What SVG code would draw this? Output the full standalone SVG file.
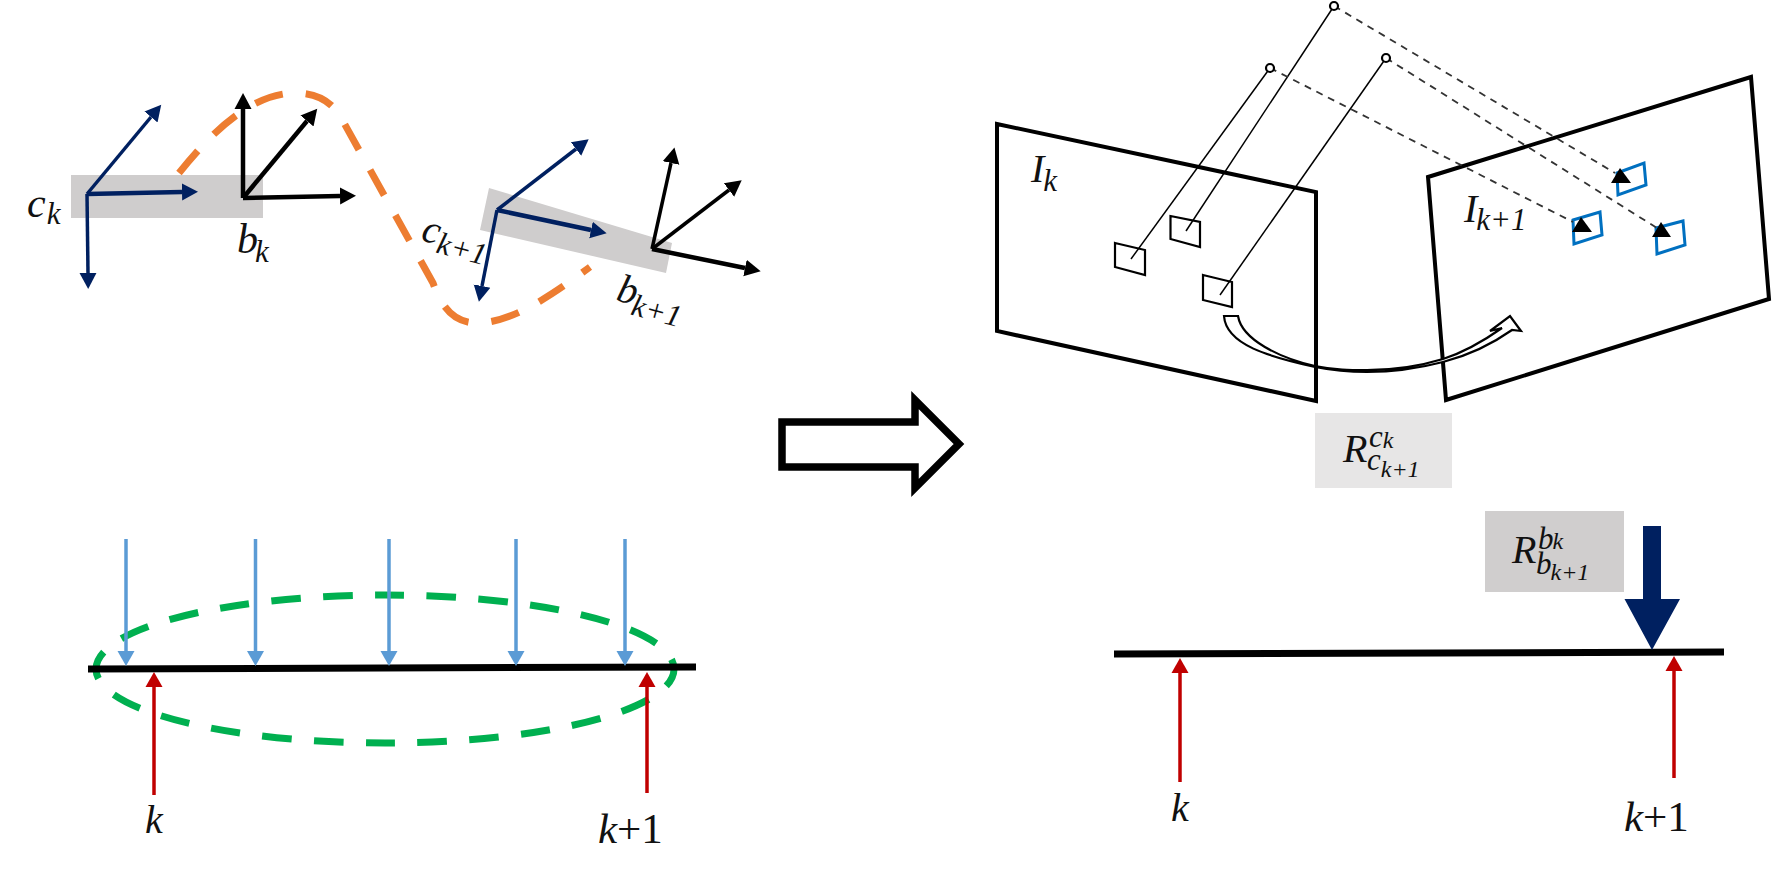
<svg xmlns="http://www.w3.org/2000/svg" width="1772" height="881" viewBox="0 0 1772 881" font-family="'Liberation Serif','DejaVu Serif',serif">
<style>
text{font-family:"Liberation Serif","DejaVu Serif",serif;font-style:italic;fill:#111}
.m{font-size:40px}
.s{font-size:31px}
.ss{font-size:24px}
.r{font-style:normal}
.navy{stroke:#002060;stroke-width:3.5;fill:none;marker-end:url(#hNavy)}
.navyb{stroke:#002060;stroke-width:4.5;fill:none;marker-end:url(#hNavy)}
.blk{stroke:#000;stroke-width:3.5;fill:none;marker-end:url(#hBlack)}
.blkb{stroke:#000;stroke-width:4.5;fill:none;marker-end:url(#hBlack)}
.sky{stroke:#5B9BD5;stroke-width:3.5;fill:none;marker-end:url(#hSky)}
.red{stroke:#C00000;stroke-width:3.5;fill:none;marker-end:url(#hRed)}
.plane{fill:none;stroke:#000;stroke-width:4;stroke-linejoin:miter}
.patch{fill:none;stroke:#000;stroke-width:2.2}
.bpatch{fill:none;stroke:#0070C0;stroke-width:3}
.ray{stroke:#000;stroke-width:1.5;fill:none}
.dray{stroke:#333;stroke-width:1.8;stroke-dasharray:7 6;fill:none}
.pt{fill:#fff;stroke:#000;stroke-width:2.2}
.tri{fill:#000}
.axis{stroke:#000;stroke-width:7;fill:none}
</style>
<defs>
<marker id="hNavy" markerUnits="userSpaceOnUse" markerWidth="20" markerHeight="20" refX="0" refY="10" orient="auto" viewBox="0 0 20 20"><path d="M0,1.5 L16,10 L0,18.5 Z" fill="#002060"/></marker>
<marker id="hBlack" markerUnits="userSpaceOnUse" markerWidth="20" markerHeight="20" refX="0" refY="10" orient="auto" viewBox="0 0 20 20"><path d="M0,1.5 L16,10 L0,18.5 Z" fill="#000"/></marker>
<marker id="hSky" markerUnits="userSpaceOnUse" markerWidth="18" markerHeight="18" refX="0" refY="9" orient="auto" viewBox="0 0 18 18"><path d="M0,0.5 L15,9 L0,17.5 Z" fill="#5B9BD5"/></marker>
<marker id="hRed" markerUnits="userSpaceOnUse" markerWidth="18" markerHeight="18" refX="0" refY="9" orient="auto" viewBox="0 0 18 18"><path d="M0,0.5 L15,9 L0,17.5 Z" fill="#C00000"/></marker>
</defs>
<rect width="1772" height="881" fill="#fff"/>

<g id="trajectory">
<rect x="71" y="175" width="192" height="43" fill="#CFCDCD"/>
<polygon points="489,188 672,243 666,273 480,230" fill="#CFCDCD"/>
<path d="M179,173 C212,132 252,92 298,93 C322,94 335,105 344,123 L433,283 C441,305 452,323 477,323 C512,323 552,295 590,267" fill="none" stroke="#ED7D31" stroke-width="7" stroke-dasharray="29 23"/>
</g>

<g id="frame-ck">
<path class="navy" d="M87,194 L151,117"/>
<path class="navyb" d="M87,194 L182,192"/>
<path class="navy" d="M87,194 L88,273"/>
<text class="m" x="27" y="217" style="font-size:42px">c<tspan class="s" dx="1" dy="7">k</tspan></text>
</g>
<g id="frame-bk">
<path class="blkb" d="M243,198 L243,109"/>
<path class="blkb" d="M243,198 L307,121"/>
<path class="blkb" d="M243,198 L340,196"/>
<text class="m" x="237" y="253" style="font-size:42px">b<tspan class="s" dx="-3" dy="9">k</tspan></text>
</g>
<g id="frame-ck1">
<path class="navy" d="M497,210 L576,149"/>
<path class="navyb" d="M497,210 L591,230"/>
<path class="navy" d="M497,210 L482,286"/>
<text class="m" transform="translate(420,240) rotate(15)" x="0" y="0">c<tspan class="s" dx="0" dy="8">k+1</tspan></text>
</g>
<g id="frame-bk1">
<path class="blk" d="M652,249 L671,163"/>
<path class="blk" d="M652,249 L729,190"/>
<path class="blkb" d="M652,249 L745,268"/>
<text class="m" transform="translate(615,300) rotate(15)" x="0" y="0">b<tspan class="s" dx="-2" dy="10">k+1</tspan></text>
</g>

<g id="imu-preintegration">
<ellipse cx="385" cy="669" rx="289" ry="74" pathLength="1224" fill="none" stroke="#00B050" stroke-width="7" stroke-dasharray="29 22" stroke-dashoffset="10"/>
<path class="axis" d="M88,669 L696,667"/>
<path class="sky" d="M126,539 V651"/>
<path class="sky" d="M255.5,539 V651"/>
<path class="sky" d="M389,539 V651"/>
<path class="sky" d="M516,539 V651"/>
<path class="sky" d="M625,539 V651"/>
<path class="red" d="M154,795 V687"/>
<path class="red" d="M647,793 V687"/>
<text class="m" x="145" y="833">k</text>
<text class="m" x="598" y="843" style="font-size:43px">k<tspan class="r">+1</tspan></text>
</g>

<g id="big-arrow">
<polygon points="782,422 915,422 915,400 959,444 915,488 915,467 782,467" fill="#fff" stroke="#000" stroke-width="7.5"/>
</g>

<g id="plane-k">
<polygon class="plane" points="997,124 1316,192 1316,401 997,331"/>
<polygon class="patch" points="1115,243 1145,250 1145,275 1115,267"/>
<polygon class="patch" points="1170.5,216 1200,222 1200,247 1170.5,239"/>
<polygon class="patch" points="1203,275 1232,282 1232,307 1203,300"/>
<text class="m" x="1031" y="182">I<tspan class="s" dx="-1" dy="9">k</tspan></text>
</g>
<g id="plane-k1">
<polygon class="plane" points="1428,177 1751,77 1769,299 1446,400"/>
<polygon class="bpatch" points="1617,173 1644,163 1646,185 1618,195"/>
<polygon class="bpatch" points="1573,220 1600,212 1602,235 1574,244"/>
<polygon class="bpatch" points="1656,228 1683,221 1685,245 1657,254"/>
<text class="m" x="1464" y="222">I<tspan class="s" dx="-1" dy="8">k+1</tspan></text>
</g>

<g id="rays">
<path class="ray" d="M1334,6 L1186,231"/>
<path class="ray" d="M1270,68 L1131,259"/>
<path class="ray" d="M1386,58 L1220,295"/>
<path class="dray" d="M1334,6 L1615,173"/>
<path class="dray" d="M1386,58 L1657,228"/>
<path class="dray" d="M1270,68 L1573,222"/>
<circle class="pt" cx="1334" cy="6" r="4"/>
<circle class="pt" cx="1270" cy="68" r="4"/>
<circle class="pt" cx="1386" cy="58" r="4"/>
<polygon class="tri" points="1620,168 1611,183 1631,183"/>
<polygon class="tri" points="1581,217 1572,232 1592,232"/>
<polygon class="tri" points="1661,222 1652,237 1671,237"/>
</g>

<g id="rotation-arrow">
<path d="M1224,316 H1238 C1242,340 1280,358 1315,366 C1335,370 1350,370 1367,370 C1395,370 1420,366 1443,359 C1465,352 1485,340 1502,328 L1490,331 L1510,316 L1521,331 L1512,330 C1495,342 1470,355 1443,362 C1420,368 1395,372 1367,372 C1350,372 1335,371 1315,367 C1270,357 1226,345 1224,316 Z" fill="#fff" stroke="#000" stroke-width="2.2"/>
</g>

<g id="label-Rc">
<rect x="1315" y="413" width="137" height="75" fill="#E7E6E6"/>
<text class="m" x="1343" y="462">R<tspan class="s" x="1369" y="447">c</tspan><tspan class="ss" dy="1">k</tspan><tspan class="s" x="1367" y="470">c</tspan><tspan class="ss" dy="7">k+1</tspan></text>
</g>

<g id="visual-track">
<rect x="1485" y="511" width="139" height="81" fill="#D0CECE"/>
<text class="m" x="1512" y="563">R<tspan class="s" x="1538" y="549">b</tspan><tspan class="ss" dx="-1">k</tspan><tspan class="s" x="1536" y="574">b</tspan><tspan class="ss" dx="-1" dy="6">k+1</tspan></text>
<path class="axis" d="M1114,654 L1724,652"/>
<polygon points="1643,526 1661,526 1661,599 1680,599 1652,650 1624.5,599 1643,599" fill="#002060"/>
<path class="red" d="M1180,782 V673"/>
<path class="red" d="M1674,778 V671"/>
<text class="m" x="1171" y="821">k</text>
<text class="m" x="1624" y="831" style="font-size:43px">k<tspan class="r">+1</tspan></text>
</g>
</svg>
